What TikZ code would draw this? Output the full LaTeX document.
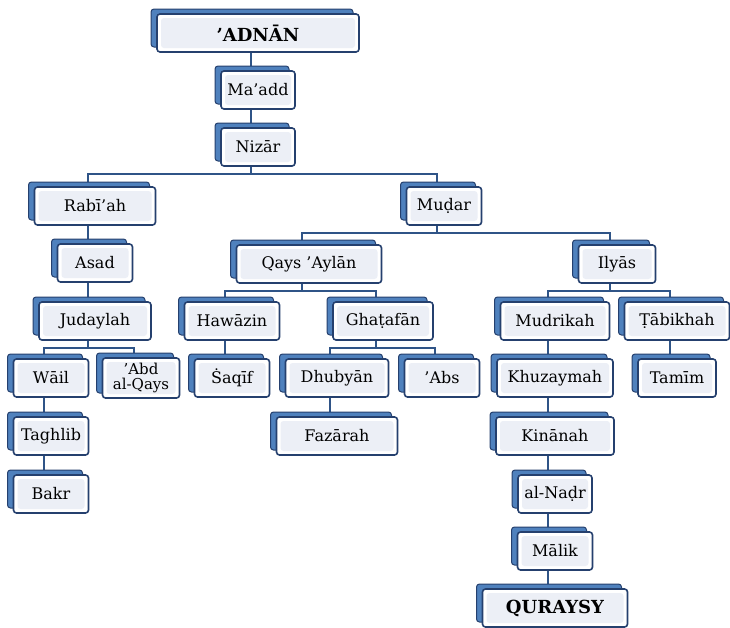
\documentclass[tikz,border=0pt]{standalone}
\usepackage{fontspec}
\setmainfont{DejaVu Serif}
\usetikzlibrary{shadows,backgrounds}

\definecolor{tribeback}{RGB}{79,129,189}
\definecolor{tribeedge}{RGB}{37,64,110}
\definecolor{tribeinner}{RGB}{236,239,246}
\definecolor{tribeline}{RGB}{47,84,135}

\tikzset{
  tribe/.style={draw=tribeedge, line width=1.6pt, rounded corners=3pt, fill=white,
    minimum height=38pt, inner sep=0pt, font=\fontsize{16}{18}\selectfont,
    copy shadow={shadow xshift=-6pt, shadow yshift=5pt, fill=tribeback, draw=tribeedge, line width=1pt},
    path picture={\fill[tribeinner] ([shift={(4pt,4pt)}]path picture bounding box.south west)
      rectangle ([shift={(-4pt,-4pt)}]path picture bounding box.north east);}},
  chief/.style={tribe, font=\fontsize{18}{20}\selectfont\bfseries},
  link/.style={draw=tribeline, line width=2pt}
}

% parent -> child, drop to a bar, then down to the child
\newcommand\famlink[2]{\draw[link] ([xshift=-7pt]#1.south) -- ++(0,7) -| ([xshift=-7pt]#2.north);}

\begin{document}
\begin{tikzpicture}[x=1pt,y=-1pt]
  \useasboundingbox (0,0) rectangle (730,627);

  % top line
  \node[chief, minimum width=202pt] (adnan) at (258,33) {'ADNĀN};
  \node[tribe, minimum width=74pt] (maadd) at (258,90) {Ma'add};
  \node[tribe, minimum width=74pt] (nizar) at (258,147) {Nizār};

  \node[tribe, minimum width=121pt] (rabiah) at (95,206) {Rabī'ah};
  \node[tribe, minimum width=75pt] (mudar) at (444,206) {Muḍar};

  \node[tribe, minimum width=75pt]  (asad)  at (95,263)  {Asad};
  \node[tribe, minimum width=145pt] (qays)  at (309,264) {Qays 'Aylān};
  \node[tribe, minimum width=77pt]  (ilyas) at (617,264) {Ilyās};

  \node[tribe, minimum width=112pt] (judaylah) at (95,321)  {Judaylah};
  \node[tribe, minimum width=95pt]  (hawazin)  at (232,321) {Hawāzin};
  \node[tribe, minimum width=100pt] (ghatafan) at (383,321) {Ghaṭafān};
  \node[tribe, minimum width=109pt] (mudrikah) at (555,321) {Mudrikah};
  \node[tribe, minimum width=105pt] (tabikhah) at (677,321) {Ṭābikhah};

  \node[tribe, minimum width=75pt]  (wail)      at (51,378)  {Wāil};
  \node[tribe, minimum width=77pt, minimum height=40pt, align=center,
        font=\fontsize{15}{15}\selectfont] (abd) at (141,378) {'Abd\\al-Qays};
  \node[tribe, minimum width=75pt]  (saqif)     at (232,378) {Ṡaqīf};
  \node[tribe, minimum width=103pt] (dhubyan)   at (337,378) {Dhubyān};
  \node[tribe, minimum width=75pt]  (abs)       at (442,378) {'Abs};
  \node[tribe, minimum width=116pt] (khuzaymah) at (555,378) {Khuzaymah};
  \node[tribe, minimum width=78pt]  (tamim)     at (677,378) {Tamīm};

  \node[tribe, minimum width=75pt]  (taghlib) at (51,436)  {Taghlib};
  \node[tribe, minimum width=121pt] (fazarah) at (337,436) {Fazārah};
  \node[tribe, minimum width=118pt] (kinanah) at (555,436) {Kinānah};

  \node[tribe, minimum width=75pt] (bakr) at (51,494)  {Bakr};
  \node[tribe, minimum width=74pt] (nadr) at (555,494) {al-Naḍr};

  \node[tribe, minimum width=75pt] (malik) at (555,551) {Mālik};
  \node[chief, minimum width=145pt] (quraysy) at (555,608) {QURAYSY};

  \begin{scope}[on background layer]
    \fill[white] (0,0) rectangle (730,627);
    \famlink{adnan}{maadd}
    \famlink{maadd}{nizar}
    \foreach \c in {rabiah,mudar} {\famlink{nizar}{\c}}
    \famlink{rabiah}{asad}
    \famlink{asad}{judaylah}
    \foreach \c in {wail,abd} {\famlink{judaylah}{\c}}
    \famlink{wail}{taghlib}
    \famlink{taghlib}{bakr}
    \foreach \c in {qays,ilyas} {\famlink{mudar}{\c}}
    \foreach \c in {hawazin,ghatafan} {\famlink{qays}{\c}}
    \famlink{hawazin}{saqif}
    \foreach \c in {dhubyan,abs} {\famlink{ghatafan}{\c}}
    \famlink{dhubyan}{fazarah}
    \foreach \c in {mudrikah,tabikhah} {\famlink{ilyas}{\c}}
    \famlink{tabikhah}{tamim}
    \famlink{mudrikah}{khuzaymah}
    \famlink{khuzaymah}{kinanah}
    \famlink{kinanah}{nadr}
    \famlink{nadr}{malik}
    \famlink{malik}{quraysy}
  \end{scope}
\end{tikzpicture}
\end{document}
